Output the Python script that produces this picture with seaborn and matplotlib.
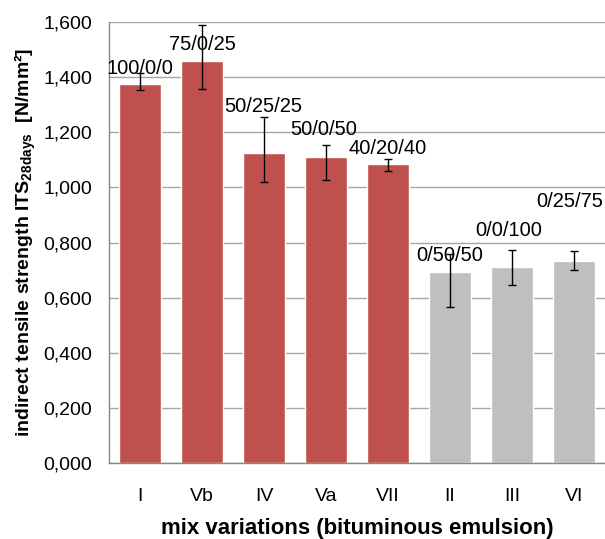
import numpy as np
import pandas as pd
import matplotlib
matplotlib.use("Agg")
import matplotlib.pyplot as plt
import seaborn as sns

# data
mixes = ["I", "Vb", "IV", "Va", "VII", "II", "III", "VI"]
ratios = ["100/0/0", "75/0/25", "50/25/25", "50/0/50", "40/20/40",
          "0/50/50", "0/0/100", "0/25/75"]
its = [1.375, 1.459, 1.125, 1.110, 1.085, 0.693, 0.710, 0.733]
err_low = [1.355, 1.357, 1.021, 1.025, 1.061, 0.566, 0.645, 0.699]
err_high = [1.415, 1.589, 1.257, 1.153, 1.102, 0.760, 0.774, 0.768]
group = ["red"] * 5 + ["grey"] * 3
yticks = [0.0, 0.2, 0.4, 0.6, 0.8, 1.0, 1.2, 1.4, 1.6]
ytick_labels = ["0,000", "0,200", "0,400", "0,600", "0,800",
                "1,000", "1,200", "1,400", "1,600"]

df = pd.DataFrame({"mix": mixes, "its": its, "group": group})

# label offset from bar top (pixels)
label_dx = [0, 0, -1, -2, 0, 0, -3, -4]
label_dy = [16, 16, 46, 28, 15, 16, 37, 59]

sns.set_style("white")
plt.rcParams["font.family"] = ["Liberation Sans", "DejaVu Sans"]
plt.rcParams["mathtext.fontset"] = "custom"
plt.rcParams["mathtext.rm"] = "Liberation Sans:bold"
plt.rcParams["text.color"] = "black"
plt.rcParams["axes.labelcolor"] = "black"
plt.rcParams["xtick.color"] = "black"
plt.rcParams["ytick.color"] = "black"

fig = plt.figure(figsize=(6.05, 5.39), dpi=100)
ax = fig.add_axes([109 / 605, 76 / 539, 496 / 605, 441 / 539])

sns.barplot(data=df, x="mix", y="its", hue="group",
            palette={"red": "#C0504D", "grey": "#BFBFBF"},
            saturation=1, width=0.68, legend=False, ax=ax, zorder=2)

xs = np.arange(len(mixes))
yerr = [np.array(its) - np.array(err_low), np.array(err_high) - np.array(its)]
ax.errorbar(xs, its, yerr=yerr, fmt="none", ecolor="black",
            elinewidth=1, capsize=3, capthick=1, zorder=3)

for x, y, lab, dx, dy in zip(xs, its, ratios, label_dx, label_dy):
    ax.annotate(lab, (x, y), xytext=(dx * 0.72, dy * 0.72),
                textcoords="offset points", ha="center", va="center",
                fontsize=14.5, zorder=4)

ax.set_ylim(0, 1.6)
ax.set_xlim(-0.5, len(mixes) - 0.5)
ax.set_yticks(yticks)
ax.set_yticklabels(ytick_labels, fontsize=14)
ax.set_xticks(xs)
ax.set_xticklabels(mixes, fontsize=14)
ax.set_xticks(np.arange(-0.5, len(mixes), 1), minor=True)
ax.tick_params(axis="x", which="major", length=0, pad=18)
ax.tick_params(axis="x", which="minor", length=5, color="#868686", width=1)
ax.tick_params(axis="y", length=5, color="#868686", labelcolor="black",
               width=1, pad=7)

ax.grid(axis="y", color="#A6A6A6", linewidth=1, zorder=0)
ax.set_axisbelow(True)
for s in ["top", "right"]:
    ax.spines[s].set_visible(False)
for s in ["left", "bottom"]:
    ax.spines[s].set_color("#868686")
    ax.spines[s].set_linewidth(1)

ax.set_xlabel("mix variations (bituminous emulsion)", fontsize=16,
              fontweight="bold", labelpad=9.5)
ax.set_ylabel(r"indirect tensile strength ITS$_{\mathrm{28days}}$  [N/mm²]",
              fontsize=14, fontweight="bold", labelpad=4)

fig.savefig("out.png", dpi=100)
